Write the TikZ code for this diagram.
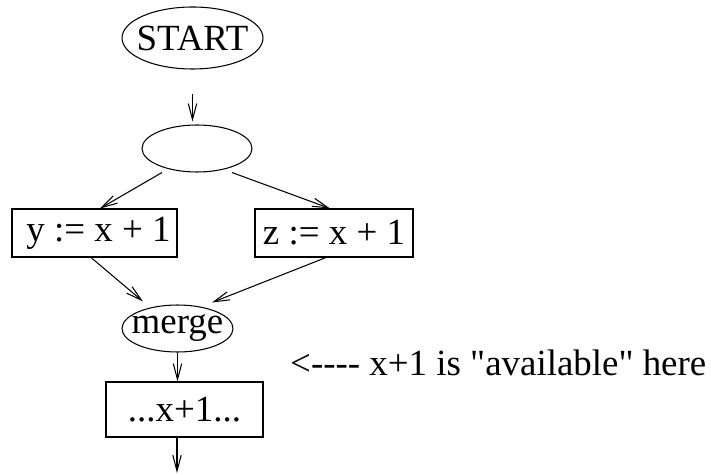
\documentclass[tikz,border=0pt]{standalone}
\usepackage{fontspec}
\newfontfamily\flowfont{Liberation Serif}
\usetikzlibrary{shapes.geometric,arrows.meta}

\begin{document}
\begin{tikzpicture}[
    font=\flowfont\fontsize{10.5}{12}\selectfont,
    line width=0.3pt,
    state/.style={ellipse, draw, inner ysep=0pt, inner xsep=-0.1cm},
    stmt/.style={rectangle, draw, inner sep=0pt},
    flow/.style={-{Straight Barb[length=4.5pt,width=2.4pt]}}
  ]
  \useasboundingbox (0,0) rectangle (7.11,-4.74);

  % Entry and branch
  \node[state, minimum width=1.41cm, minimum height=0.62cm] (start) at (1.925,-0.38) {START};
  \node[state, minimum width=1.10cm, minimum height=0.47cm] (branch) at (1.97,-1.485) {};

  % Two assignments
  \node[stmt, minimum width=1.65cm, minimum height=0.48cm] (ybox) at (0.945,-2.33) {\hspace{0.08cm}y := x + 1};
  \node[stmt, minimum width=1.58cm, minimum height=0.48cm] (zbox) at (3.34,-2.33) {z := x + 1};

  % Join and use
  \node[state, minimum width=1.11cm, minimum height=0.47cm] (merge) at (1.775,-3.285) {merge};
  \node[stmt, minimum width=1.57cm, minimum height=0.55cm] (use) at (1.845,-4.095) {...x+1...};
  \coordinate (exit) at (1.77,-4.73);

  \node[anchor=base west] (note) at (2.78,-3.75) {<---- x+1 is "available" here};

  % Control flow
  \draw[flow] ([yshift=-0.24cm]start.south) -- ([yshift=0.03cm]start.south |- branch.north);
  \draw[flow] ([xshift=-0.35cm]branch.south) -- ([xshift=0.055cm]ybox.north);
  \draw[flow] ([xshift=0.35cm]branch.south) -- ([xshift=-0.04cm]zbox.north);
  \draw[flow] ([xshift=-0.035cm]ybox.south) -- ([xshift=-0.345cm,yshift=0.03cm]merge.north);
  \draw[flow] ([xshift=-0.08cm]zbox.south) -- ([xshift=0.345cm,yshift=0.02cm]merge.north);
  \draw[flow] (merge.south) -- (merge.south |- use.north);
  \draw[flow] (use.south -| exit) -- (exit);
\end{tikzpicture}
\end{document}
